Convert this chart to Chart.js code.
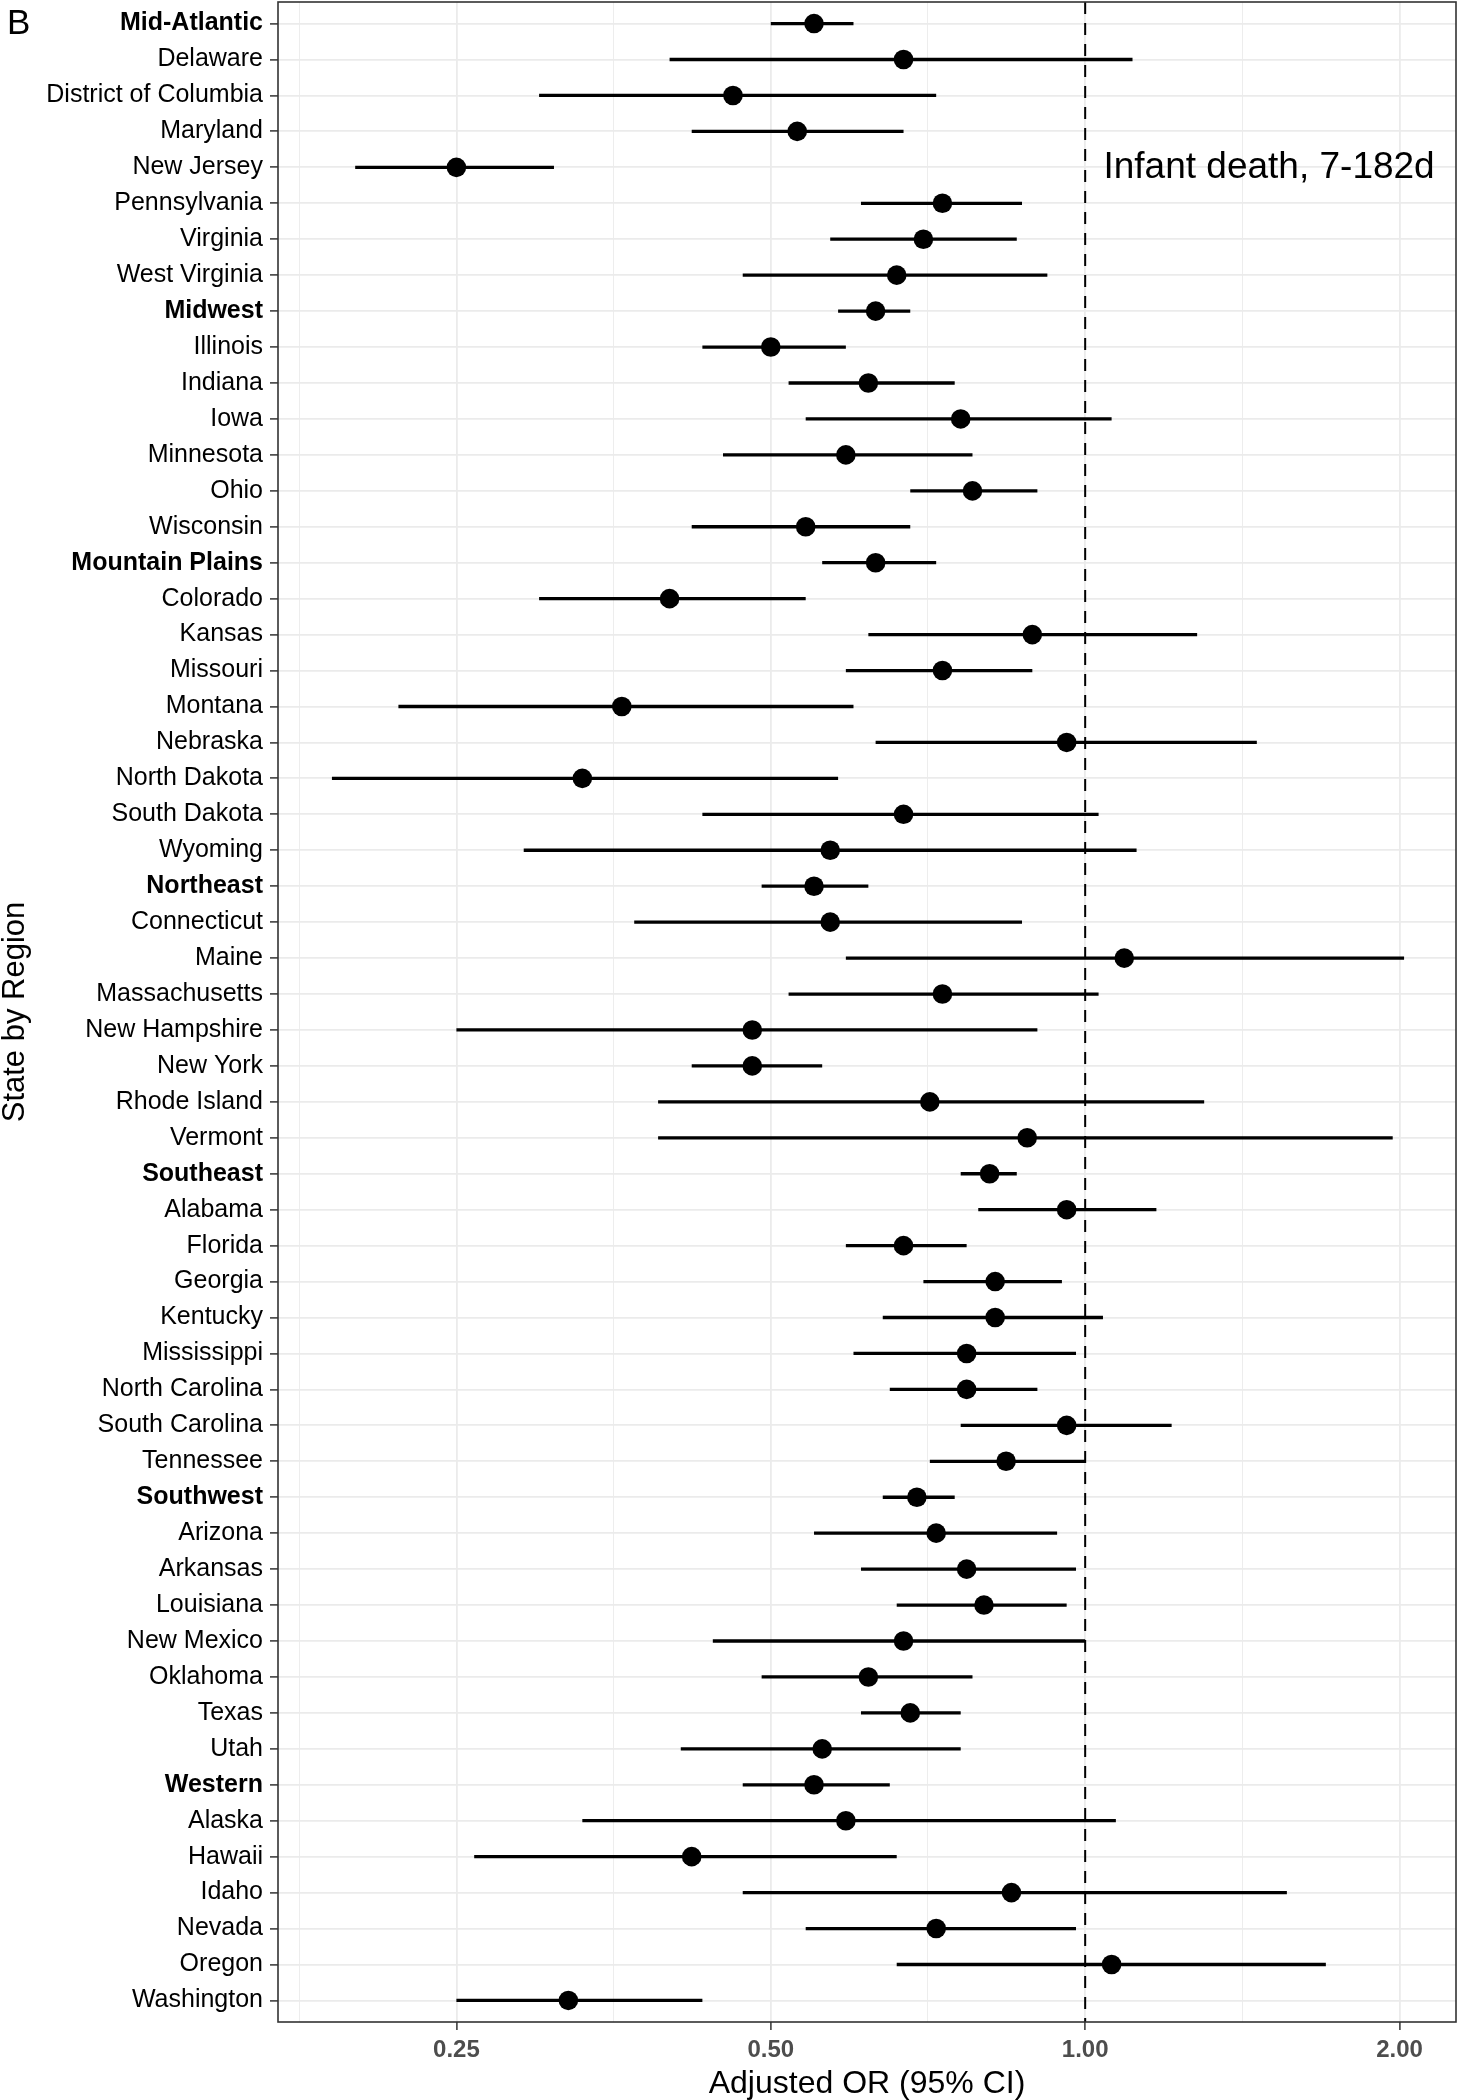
<!DOCTYPE html>
<html>
<head>
<meta charset="utf-8">
<title>Infant death, 7-182d</title>
<script src="https://cdn.jsdelivr.net/npm/chart.js@4.4.1/dist/chart.umd.min.js"></script>
<style>
  html, body { margin: 0; padding: 0; background: #fff; }
  #wrap { width: 1460px; height: 2100px; }
</style>
</head>
<body>
<div id="wrap"><canvas id="forest" width="1460" height="2100"></canvas></div>
<script>
// Linhas do gráfico (de cima para baixo)
const stateLabels = [
    'Mid-Atlantic', 'Delaware', 'District of Columbia', 'Maryland', 'New Jersey', 'Pennsylvania', 'Virginia', 'West Virginia',
    'Midwest', 'Illinois', 'Indiana', 'Iowa', 'Minnesota', 'Ohio', 'Wisconsin',
    'Mountain Plains', 'Colorado', 'Kansas', 'Missouri', 'Montana', 'Nebraska', 'North Dakota', 'South Dakota', 'Wyoming',
    'Northeast', 'Connecticut', 'Maine', 'Massachusetts', 'New Hampshire', 'New York', 'Rhode Island', 'Vermont',
    'Southeast', 'Alabama', 'Florida', 'Georgia', 'Kentucky', 'Mississippi', 'North Carolina', 'South Carolina', 'Tennessee',
    'Southwest', 'Arizona', 'Arkansas', 'Louisiana', 'New Mexico', 'Oklahoma', 'Texas', 'Utah',
    'Western', 'Alaska', 'Hawaii', 'Idaho', 'Nevada', 'Oregon', 'Washington'
];

// Regiões aparecem em negrito
const regionRows = ['Mid-Atlantic', 'Midwest', 'Mountain Plains', 'Northeast', 'Southeast', 'Southwest', 'Western'];

// OR ajustado e IC 95%
const oddsRatio = [
    0.55, 0.67, 0.46, 0.53, 0.25, 0.73, 0.70, 0.66,
    0.63, 0.50, 0.62, 0.76, 0.59, 0.78, 0.54,
    0.63, 0.40, 0.89, 0.73, 0.36, 0.96, 0.33, 0.67, 0.57,
    0.55, 0.57, 1.09, 0.73, 0.48, 0.48, 0.71, 0.88,
    0.81, 0.96, 0.67, 0.82, 0.82, 0.77, 0.77, 0.96, 0.84,
    0.69, 0.72, 0.77, 0.80, 0.67, 0.62, 0.68, 0.56,
    0.55, 0.59, 0.42, 0.85, 0.72, 1.06, 0.32
];
const ciLower = [
    0.50, 0.40, 0.30, 0.42, 0.20, 0.61, 0.57, 0.47,
    0.58, 0.43, 0.52, 0.54, 0.45, 0.68, 0.42,
    0.56, 0.30, 0.62, 0.59, 0.22, 0.63, 0.19, 0.43, 0.29,
    0.49, 0.37, 0.59, 0.52, 0.25, 0.42, 0.39, 0.39,
    0.76, 0.79, 0.59, 0.70, 0.64, 0.60, 0.65, 0.76, 0.71,
    0.64, 0.55, 0.61, 0.66, 0.44, 0.49, 0.61, 0.41,
    0.47, 0.33, 0.26, 0.47, 0.54, 0.66, 0.25
];
const ciUpper = [
    0.60, 1.11, 0.72, 0.67, 0.31, 0.87, 0.86, 0.92,
    0.68, 0.59, 0.75, 1.06, 0.78, 0.90, 0.68,
    0.72, 0.54, 1.28, 0.89, 0.60, 1.46, 0.58, 1.03, 1.12,
    0.62, 0.87, 2.02, 1.03, 0.90, 0.56, 1.30, 1.97,
    0.86, 1.17, 0.77, 0.95, 1.04, 0.98, 0.90, 1.21, 1.00,
    0.75, 0.94, 0.98, 0.96, 1.00, 0.78, 0.76, 0.76,
    0.65, 1.07, 0.66, 1.56, 0.98, 1.70, 0.43
];

// Eixo x (escala log)
const xBreaks = [0.25, 0.5, 1, 2];
const xMinorBreaks = [0.1768, 0.3536, 0.7071, 1.4142];
const refLine = 1;
const panelNote = 'Infant death, 7-182d';
const panelTag = 'B';

const FONT = "'Liberation Sans', Arial, Helvetica, sans-serif";
const noPadding = () => ({ left: 0, top: 0, right: 0, bottom: 0 });

// Decoração do painel: borda, rótulo "B" e anotação
const panelDecor = {
    id: 'panelDecor',
    afterDatasetsDraw(chart) {
        const { ctx, scales } = chart;
        ctx.save();
        ctx.fillStyle = '#000';
        ctx.font = '37px ' + FONT;
        ctx.textAlign = 'center';
        ctx.textBaseline = 'middle';
        ctx.fillText(panelNote, scales.x.getPixelForValue(1.5), scales.y.getPixelForValue(4));
        ctx.restore();
    },
    afterDraw(chart) {
        const { ctx, chartArea } = chart;
        ctx.save();
        ctx.strokeStyle = '#333';
        ctx.lineWidth = 1.6;
        ctx.strokeRect(chartArea.left, chartArea.top, chartArea.right - chartArea.left, chartArea.bottom - chartArea.top);
        ctx.fillStyle = '#000';
        ctx.font = '35px ' + FONT;
        ctx.textAlign = 'left';
        ctx.textBaseline = 'middle';
        ctx.fillText(panelTag, 7, 24);
        ctx.restore();
    }
};

// Barras de erro: um segmento por linha, separados por lacunas
const errorBarPoints = stateLabels.flatMap((_, i) => [
    { x: ciLower[i], y: i },
    { x: ciUpper[i], y: i },
    { x: null, y: null }
]);

const ctx = document.getElementById('forest').getContext('2d');
const chart = new Chart(ctx, {
    type: 'scatter',
    data: {
        datasets: [
            {
                label: 'OR',
                data: oddsRatio.map((v, i) => ({ x: v, y: i })),
                pointRadius: 9.8,
                pointBackgroundColor: '#000',
                pointBorderWidth: 0,
                order: 0
            },
            {
                label: 'IC 95%',
                data: errorBarPoints,
                showLine: true,
                spanGaps: false,
                borderColor: '#000',
                borderWidth: 3.3,
                pointRadius: 0,
                order: 1
            },
            {
                label: 'ref',
                data: [{ x: refLine, y: -0.6 }, { x: refLine, y: stateLabels.length - 0.4 }],
                showLine: true,
                borderColor: '#000',
                borderWidth: 2,
                borderDash: [12, 9],
                pointRadius: 0,
                order: 2
            }
        ]
    },
    options: {
        responsive: false,
        animation: false,
        events: [],
        layout: { autoPadding: false, padding: { top: 2, right: 4, left: 0, bottom: 0 } },
        plugins: {
            legend: { display: false },
            tooltip: { enabled: false }
        },
        scales: {
            x: {
                type: 'logarithmic',
                min: 0.1687,
                max: 2.265,
                afterBuildTicks: s => {
                    s.ticks = [...xMinorBreaks, ...xBreaks].sort((a, b) => a - b).map(v => ({ value: v }));
                },
                afterFit: s => {
                    s.height = 78;
                    s.paddingLeft = 0;
                    s.paddingRight = 0;
                    s.getPadding = noPadding;
                },
                ticks: {
                    autoSkip: false,
                    maxRotation: 0,
                    padding: 6,
                    color: '#4d4d4d',
                    font: { family: FONT, size: 24, weight: 'bold' },
                    callback: v => xBreaks.includes(v) ? v.toFixed(2) : ''
                },
                grid: {
                    color: '#ebebeb',
                    lineWidth: c => (c.tick && xBreaks.includes(c.tick.value)) ? 1.8 : 0.9,
                    tickColor: c => (c.tick && xBreaks.includes(c.tick.value)) ? '#333' : 'rgba(0,0,0,0)',
                    tickLength: 8,
                    tickWidth: 1.5
                },
                border: { display: false },
                title: {
                    display: true,
                    text: 'Adjusted OR (95% CI)',
                    color: '#000',
                    font: { family: FONT, size: 32, lineHeight: 1 },
                    padding: 0
                }
            },
            y: {
                type: 'linear',
                reverse: true,
                min: -0.6,
                max: stateLabels.length - 0.4,
                afterBuildTicks: s => {
                    s.ticks = stateLabels.map((_, i) => ({ value: i }));
                },
                afterFit: s => {
                    s.width = 278;
                    s.paddingTop = 0;
                    s.paddingBottom = 0;
                    s.getPadding = noPadding;
                },
                ticks: {
                    autoSkip: false,
                    padding: 7,
                    color: '#000',
                    font: c => ({
                        family: FONT,
                        size: 25,
                        weight: regionRows.includes(stateLabels[c.index]) ? 'bold' : 'normal'
                    }),
                    callback: (v, i) => stateLabels[i]
                },
                grid: {
                    color: '#ebebeb',
                    lineWidth: 1.8,
                    tickColor: '#333',
                    tickLength: 8,
                    tickWidth: 1.5
                },
                border: { display: false },
                title: {
                    display: true,
                    text: 'State by Region',
                    color: '#000',
                    font: { family: FONT, size: 31, lineHeight: 1 },
                    padding: 0
                }
            }
        }
    },
    plugins: [panelDecor]
});
</script>
</body>
</html>
